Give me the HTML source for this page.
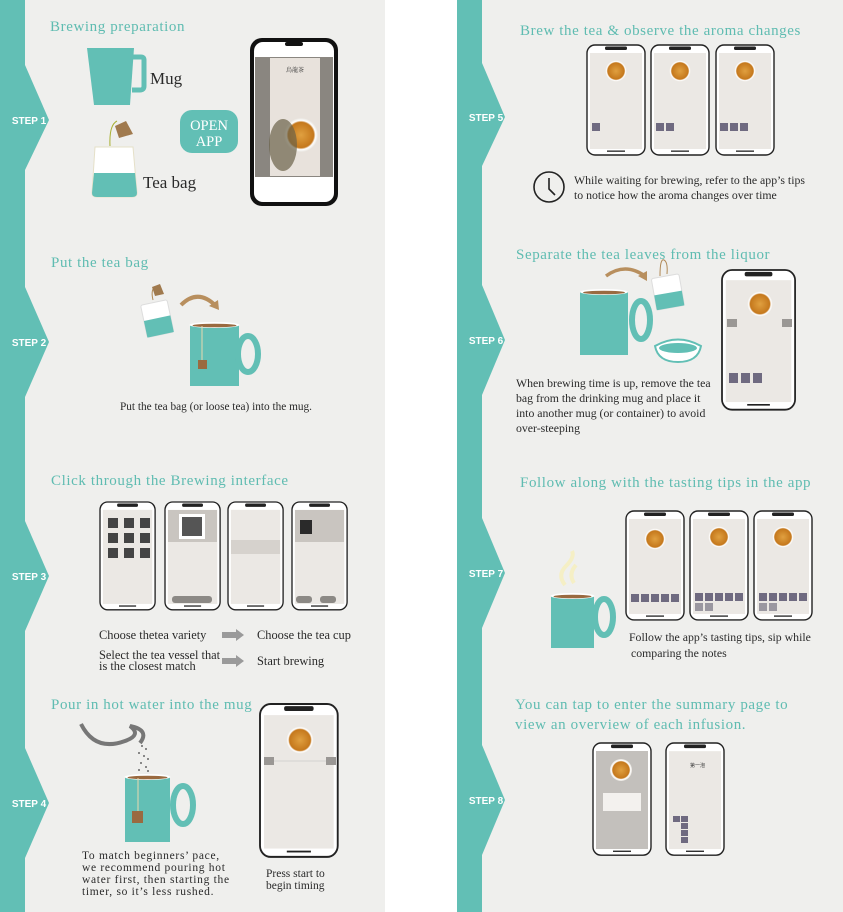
<!DOCTYPE html>
<html><head><meta charset="utf-8"><style>
html,body{margin:0;padding:0;background:#fff;}
svg{display:block;}
.t{font-family:"Liberation Serif",serif;fill:#5fbcb1;font-size:15px;letter-spacing:0.6px;}
.b{font-family:"Liberation Serif",serif;fill:#2a2a2a;font-size:11.5px;}
.s{font-family:"Liberation Sans",sans-serif;font-weight:bold;fill:#fff;font-size:10px;}
</style></head><body>
<svg width="843" height="912" viewBox="0 0 843 912" xmlns="http://www.w3.org/2000/svg">
<defs>
<g id="ph">
 <rect x="0" y="0" width="58" height="110" rx="8" fill="#fff" stroke="#222" stroke-width="1.4"/>
 <rect x="3" y="8" width="52" height="96" fill="#ebe8e4"/>
 <rect x="18" y="1.5" width="22" height="3.5" rx="1.5" fill="#222"/>
 <rect x="20" y="105.5" width="18" height="1.3" fill="#222"/>
</g>
<radialGradient id="tea" cx="50%" cy="50%" r="50%"><stop offset="0" stop-color="#e0a040"/><stop offset="0.75" stop-color="#c5781c"/><stop offset="0.85" stop-color="#fff"/><stop offset="1" stop-color="#e8e4de"/></radialGradient>
</defs>

<!-- panels -->
<rect x="0" y="0" width="385" height="912" fill="#efefed"/>
<rect x="457" y="0" width="386" height="912" fill="#efefed"/>
<rect x="0" y="0" width="25" height="912" fill="#62bfb5"/>
<rect x="457" y="0" width="25" height="912" fill="#62bfb5"/>
<g fill="#62bfb5">
<polygon points="25,65 49,120 25,170"/><polygon points="25,287 49,342 25,397"/>
<polygon points="25,521 49,576 25,631"/><polygon points="25,748 49,803 25,858"/>
<polygon points="482,63 505,117 482,166"/><polygon points="482,285 505,340 482,395"/>
<polygon points="482,518 505,573 482,628"/><polygon points="482,745 505,800 482,855"/>
</g>
<g class="s" text-anchor="middle">
<text x="29" y="124">STEP 1</text><text x="29" y="346">STEP 2</text><text x="29" y="580">STEP 3</text><text x="29" y="807">STEP 4</text>
<text x="486" y="121">STEP 5</text><text x="486" y="344">STEP 6</text><text x="486" y="577">STEP 7</text><text x="486" y="804">STEP 8</text>
</g>

<!-- STEP 1 -->
<text class="t" x="50" y="31">Brewing preparation</text>
<path d="M87,48 H134 L130,105 H94 Z" fill="#62bfb5"/>
<path d="M132,57 H141 Q144,57 144,60 V86 Q144,90 140,90 H132" fill="none" stroke="#62bfb5" stroke-width="5"/>
<text class="b" x="150" y="84" style="font-size:17px">Mug</text>
<path d="M110,146 Q109,125 117,121" fill="none" stroke="#a8b030" stroke-width="1"/>
<polygon points="115,126 126,121 133,134 119,138" fill="#a07a4e"/>
<path d="M95,147 H133 L137,193 Q137,197 132,197 H97 Q92,197 92,193 Z" fill="#fff" stroke="#e5e0c8"/>
<path d="M94,173 H135 L137,193 Q137,197 132,197 H97 Q92,197 92,193 Z" fill="#62bfb5"/>
<text class="b" x="143" y="188" style="font-size:17px">Tea bag</text>
<rect x="180" y="110" width="58" height="43" rx="12" fill="#62bfb5"/>
<text x="209" y="130" text-anchor="middle" font-family="Liberation Serif" font-size="14.5" fill="#fff">OPEN</text>
<text x="209" y="146" text-anchor="middle" font-family="Liberation Serif" font-size="14.5" fill="#fff">APP</text>
<rect x="250" y="38" width="88" height="168" rx="12" fill="#111"/>
<rect x="254" y="42" width="80" height="160" rx="9" fill="#fff"/>
<rect x="255" y="57" width="78" height="120" fill="#8a8680"/>
<rect x="270" y="58" width="50" height="118" fill="#e8e2dc"/>
<circle cx="301" cy="135" r="17" fill="url(#tea)"/>
<ellipse cx="283" cy="145" rx="14" ry="26" fill="#6b6248" opacity="0.7"/>
<text x="295" y="72" text-anchor="middle" font-family="Noto Serif CJK SC,serif" font-size="6" fill="#333">烏龍茶</text>
<rect x="285" y="42" width="18" height="4" rx="2" fill="#111"/>

<!-- STEP 2 -->
<text class="t" x="51" y="267">Put the tea bag</text>
<path d="M153,300 Q150,288 157,286" fill="none" stroke="#b08855" stroke-width="1"/>
<polygon points="152,287 160,284 164,294 155,296" fill="#a07a4e"/>
<g transform="rotate(-12 158 320)"><rect x="144" y="302" width="27" height="33" rx="2" fill="#fff" stroke="#ddd"/><rect x="144" y="318" width="27" height="17" fill="#62bfb5"/></g>
<path d="M181,305 Q198,288 216,306" fill="none" stroke="#b88f5e" stroke-width="4"/>
<polygon points="219,310 209,306 218,300" fill="#b88f5e"/>
<path d="M190,325 H239 V386 H190 Z" fill="#62bfb5"/>
<ellipse cx="214.5" cy="325" rx="25" ry="3" fill="#fff"/><ellipse cx="214.5" cy="325.5" rx="22" ry="1.8" fill="#9a6a40"/>
<ellipse cx="248" cy="354" rx="10" ry="18" fill="none" stroke="#62bfb5" stroke-width="6"/>
<line x1="202" y1="326" x2="202" y2="360" stroke="#e8d8b0" stroke-width="1"/>
<rect x="198" y="360" width="9" height="9" fill="#9a6a40"/>
<text class="b" x="216" y="410" text-anchor="middle" style="font-size:11.3px">Put the tea bag (or loose tea) into the mug.</text>

<!-- STEP 3 -->
<text class="t" x="51" y="485">Click through the Brewing interface</text>
<use href="#ph" transform="translate(100,502) scale(0.95,0.98)"/>
<use href="#ph" transform="translate(165,502) scale(0.95,0.98)"/>
<use href="#ph" transform="translate(228,502) scale(0.95,0.98)"/>
<use href="#ph" transform="translate(292,502) scale(0.95,0.98)"/>
<g fill="#444">
<rect x="108" y="518" width="10" height="10"/><rect x="124" y="518" width="10" height="10"/><rect x="140" y="518" width="10" height="10"/>
<rect x="108" y="533" width="10" height="10"/><rect x="124" y="533" width="10" height="10"/><rect x="140" y="533" width="10" height="10"/>
<rect x="108" y="548" width="10" height="10"/><rect x="124" y="548" width="10" height="10"/><rect x="140" y="548" width="10" height="10"/>
</g>
<rect x="168" y="510" width="49" height="32" fill="#c9c5c0"/><rect x="179" y="514" width="26" height="25" fill="#fff"/><rect x="182" y="517" width="20" height="19" fill="#555"/>
<rect x="172" y="596" width="40" height="7" rx="3" fill="#8c8985"/>
<rect x="231" y="540" width="49" height="14" fill="#d6d2cd"/>
<rect x="295" y="510" width="49" height="32" fill="#c9c5c0"/><rect x="300" y="520" width="12" height="14" fill="#2a2a2a"/>
<rect x="296" y="596" width="16" height="7" rx="3" fill="#8c8985"/><rect x="320" y="596" width="16" height="7" rx="3" fill="#8c8985"/>
<g class="b" style="font-size:12.4px">
<text x="99" y="639">Choose thetea variety</text>
<text x="257" y="639">Choose the tea cup</text>
<text x="99" y="659">Select the tea vessel that</text>
<text x="99" y="670">is the closest match</text>
<text x="257" y="665">Start brewing</text>
</g>
<polygon points="222,632 236,632 236,629 244,635 236,641 236,638 222,638" fill="#9a9a9a"/>
<polygon points="222,658 236,658 236,655 244,661 236,667 236,664 222,664" fill="#9a9a9a"/>

<!-- STEP 4 -->
<text class="t" x="51" y="709">Pour in hot water into the mug</text>
<path d="M81,724 Q95,752 125,741 Q142,735 130,726 Q150,730 140,743" fill="none" stroke="#777" stroke-width="4"/>
<g fill="#888"><rect x="141" y="745" width="2" height="2"/><rect x="145" y="748" width="2" height="2"/><rect x="138" y="752" width="2" height="2"/><rect x="143" y="755" width="2" height="2"/><rect x="147" y="758" width="2" height="2"/><rect x="140" y="762" width="2" height="2"/><rect x="145" y="766" width="2" height="2"/><rect x="138" y="769" width="2" height="2"/><rect x="147" y="770" width="2" height="2"/></g>
<path d="M125,777 H170 V842 H125 Z" fill="#62bfb5"/>
<ellipse cx="147.5" cy="777" rx="23" ry="3" fill="#fff"/><ellipse cx="147.5" cy="777.5" rx="20" ry="1.8" fill="#9a6a40"/>
<ellipse cx="183" cy="805" rx="10" ry="19" fill="none" stroke="#62bfb5" stroke-width="6"/>
<line x1="138" y1="778" x2="138" y2="811" stroke="#e8d8b0" stroke-width="1"/>
<rect x="132" y="811" width="11" height="12" fill="#9a6a40"/>
<g class="b" style="letter-spacing:0.7px;font-size:11.5px">
<text x="82" y="859">To match beginners’ pace,</text>
<text x="82" y="871">we recommend pouring hot</text>
<text x="82" y="883">water first, then starting the</text>
<text x="82" y="895">timer, so it’s less rushed.</text>
</g>
<use href="#ph" transform="translate(260,704) scale(1.34,1.39)"/>
<circle cx="300" cy="740" r="14" fill="url(#tea)"/>
<rect x="264" y="757" width="10" height="8" fill="#9a9794"/><rect x="326" y="757" width="10" height="8" fill="#9a9794"/>
<line x1="274" y1="761" x2="326" y2="761" stroke="#bbb" stroke-width="0.6"/>
<text class="b" x="266" y="877">Press start to</text>
<text class="b" x="266" y="889">begin timing</text>

<!-- STEP 5 -->
<text class="t" x="520" y="35">Brew the tea &amp; observe the aroma changes</text>
<use href="#ph" transform="translate(587,45)"/>
<use href="#ph" transform="translate(651,45)"/>
<use href="#ph" transform="translate(716,45)"/>
<circle cx="616" cy="71" r="11" fill="url(#tea)"/><circle cx="680" cy="71" r="11" fill="url(#tea)"/><circle cx="745" cy="71" r="11" fill="url(#tea)"/>
<rect x="592" y="123" width="8" height="8" fill="#6f6a80"/>
<rect x="656" y="123" width="8" height="8" fill="#6f6a80"/><rect x="666" y="123" width="8" height="8" fill="#6f6a80"/>
<rect x="720" y="123" width="8" height="8" fill="#6f6a80"/><rect x="730" y="123" width="8" height="8" fill="#6f6a80"/><rect x="740" y="123" width="8" height="8" fill="#6f6a80"/>
<circle cx="549" cy="187" r="15" fill="none" stroke="#222" stroke-width="1.6"/>
<path d="M549,178 V189 L555,195" fill="none" stroke="#222" stroke-width="1.6"/>
<g class="b" style="font-size:11.8px">
<text x="574" y="184">While waiting for brewing, refer to the app’s tips</text>
<text x="574" y="199">to notice how the aroma changes over time</text>
</g>

<!-- STEP 6 -->
<text class="t" x="516" y="259">Separate the tea leaves from the liquor</text>
<path d="M580,292 H628 V355 H580 Z" fill="#62bfb5"/>
<ellipse cx="604" cy="292" rx="24" ry="3" fill="#fff"/><ellipse cx="604" cy="292.5" rx="21" ry="1.8" fill="#9a6a40"/>
<ellipse cx="641" cy="320" rx="9" ry="19" fill="none" stroke="#62bfb5" stroke-width="6"/>
<path d="M606,276 Q625,262 645,276" fill="none" stroke="#b88f5e" stroke-width="3.5"/>
<polygon points="647,281 638,276 647,271" fill="#b88f5e"/>
<path d="M660,276 Q660,258 664,260 Q668,262 667,274" fill="none" stroke="#b08855" stroke-width="1"/>
<g transform="rotate(-10 668 293)"><rect x="654" y="276" width="28" height="32" rx="2" fill="#fff" stroke="#ddd"/><rect x="654" y="293" width="28" height="15" fill="#62bfb5"/></g>
<path d="M655,346 Q678,333 701,346 Q698,362 678,362 Q658,362 655,346 Z" fill="#fff" stroke="#62bfb5" stroke-width="2"/>
<ellipse cx="678" cy="348" rx="19" ry="5" fill="#62bfb5"/>
<use href="#ph" transform="translate(722,270) scale(1.26,1.27)"/>
<circle cx="760" cy="304" r="13" fill="url(#tea)"/>
<rect x="727" y="319" width="10" height="8" fill="#9a9794"/><rect x="782" y="319" width="10" height="8" fill="#9a9794"/>
<rect x="729" y="373" width="9" height="10" fill="#6f6a80"/><rect x="741" y="373" width="9" height="10" fill="#6f6a80"/><rect x="753" y="373" width="9" height="10" fill="#6f6a80"/>
<g class="b" style="font-size:11.8px">
<text x="516" y="387">When brewing time is up, remove the tea</text>
<text x="516" y="402">bag from the drinking mug and place it</text>
<text x="516" y="417">into another mug (or container) to avoid</text>
<text x="516" y="432">over-steeping</text>
</g>

<!-- STEP 7 -->
<text class="t" x="520" y="487">Follow along with the tasting tips in the app</text>
<path d="M565,585 Q557,575 566,566 Q575,557 572,551 M574,583 Q568,574 576,565" fill="none" stroke="#f5efc5" stroke-width="4"/>
<path d="M551,596 H594 V648 H551 Z" fill="#62bfb5"/>
<ellipse cx="572.5" cy="596" rx="22" ry="3" fill="#fff"/><ellipse cx="572.5" cy="596.5" rx="19" ry="1.8" fill="#9a6a40"/>
<ellipse cx="604" cy="617" rx="9" ry="18" fill="none" stroke="#62bfb5" stroke-width="6"/>
<use href="#ph" transform="translate(626,511) scale(1.0,0.99)"/>
<use href="#ph" transform="translate(690,511) scale(1.0,0.99)"/>
<use href="#ph" transform="translate(754,511) scale(1.0,0.99)"/>
<circle cx="655" cy="539" r="11" fill="url(#tea)"/><circle cx="719" cy="537" r="11" fill="url(#tea)"/><circle cx="783" cy="537" r="11" fill="url(#tea)"/>
<g fill="#6f6a80">
<rect x="631" y="594" width="8" height="8"/><rect x="641" y="594" width="8" height="8"/><rect x="651" y="594" width="8" height="8"/><rect x="661" y="594" width="8" height="8"/><rect x="671" y="594" width="8" height="8"/>
<rect x="695" y="593" width="8" height="8"/><rect x="705" y="593" width="8" height="8"/><rect x="715" y="593" width="8" height="8"/><rect x="725" y="593" width="8" height="8"/><rect x="735" y="593" width="8" height="8"/>
<rect x="759" y="593" width="8" height="8"/><rect x="769" y="593" width="8" height="8"/><rect x="779" y="593" width="8" height="8"/><rect x="789" y="593" width="8" height="8"/><rect x="799" y="593" width="8" height="8"/>
</g>
<g fill="#9a97a0"><rect x="695" y="603" width="8" height="8"/><rect x="705" y="603" width="8" height="8"/><rect x="759" y="603" width="8" height="8"/><rect x="769" y="603" width="8" height="8"/></g>
<g class="b" style="font-size:11.8px">
<text x="629" y="641">Follow the app’s tasting tips, sip while</text>
<text x="631" y="657">comparing the notes</text>
</g>

<!-- STEP 8 -->
<text class="t" x="515" y="709">You can tap to enter the summary page to</text>
<text class="t" x="515" y="729">view an overview of each infusion.</text>
<use href="#ph" transform="translate(593,743) scale(1.0,1.02)"/>
<rect x="596" y="751" width="52" height="98" fill="#c3c0bc"/>
<circle cx="621" cy="770" r="11" fill="url(#tea)"/>
<rect x="603" y="793" width="38" height="18" fill="#f3f1ee"/>
<use href="#ph" transform="translate(666,743) scale(1.0,1.02)"/>
<g fill="#6f6a80"><rect x="673" y="816" width="7" height="6"/><rect x="681" y="816" width="7" height="6"/><rect x="681" y="823" width="7" height="6"/><rect x="681" y="830" width="7" height="6"/><rect x="681" y="837" width="7" height="6"/></g>
<text x="690" y="767" font-family="Noto Sans CJK SC,sans-serif" font-size="5" fill="#333">第一泡</text>
</svg>
</body></html>
